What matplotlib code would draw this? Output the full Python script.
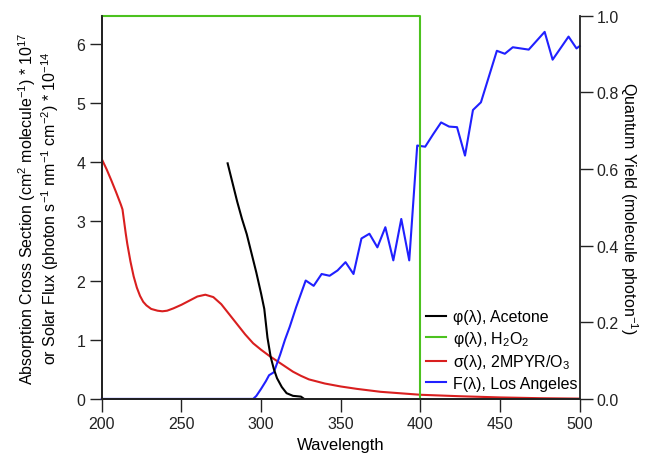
import matplotlib.pyplot as plt
import numpy as np

plt.rcParams['font.family'] = ['Liberation Sans', 'DejaVu Sans']
plt.rcParams['mathtext.default'] = 'regular'

# phi(lambda), acetone (right axis)
acetone_wl = [279, 282, 285, 288, 291, 294, 297, 300, 302, 304, 306, 308, 310, 313, 316, 320, 325, 327]
acetone_phi = [0.615, 0.565, 0.515, 0.47, 0.43, 0.38, 0.33, 0.275, 0.235, 0.16, 0.11, 0.078, 0.054,
               0.031, 0.015, 0.008, 0.006, 0.0]

# phi(lambda), H2O2 (right axis)
h2o2_wl = [200, 400, 400]
h2o2_phi = [1.0, 1.0, 0.0]

# sigma(lambda), 2MPYR/O3 (left axis)
sigma_wl = [200, 203, 206, 209, 212, 213, 214, 215, 216, 218, 220, 222, 224, 226, 228, 231, 235,
            238, 241, 245, 250, 255, 260, 265, 270, 275, 280, 285, 290, 295, 300, 305, 310, 315,
            320, 325, 330, 340, 350, 360, 375, 400, 425, 450, 475, 500]
sigma_val = [4.05, 3.88, 3.69, 3.49, 3.28, 3.2, 3.0, 2.8, 2.62, 2.32, 2.07, 1.88, 1.74, 1.64,
             1.58, 1.52, 1.49, 1.48, 1.49, 1.53, 1.59, 1.66, 1.73, 1.76, 1.72, 1.6, 1.43, 1.26,
             1.09, 0.94, 0.83, 0.73, 0.64, 0.55, 0.46, 0.39, 0.33, 0.26, 0.21, 0.17, 0.12, 0.07,
             0.045, 0.025, 0.012, 0.005]

# F(lambda), Los Angeles solar flux (left axis)
flux_wl = [200, 295, 297, 300, 303, 305, 308, 310, 312, 315, 318, 322, 328, 333, 338, 343, 348,
           353, 358, 363, 368, 373, 378, 383, 388, 393, 398, 403, 408, 413, 418, 423, 428, 433,
           438, 448, 453, 458, 468, 478, 483, 493, 498, 500]
flux_val = [0.0, 0.0, 0.05, 0.17, 0.3, 0.4, 0.45, 0.6, 0.75, 1.0, 1.22, 1.55, 2.0, 1.91, 2.11,
            2.08, 2.17, 2.31, 2.11, 2.71, 2.79, 2.56, 2.9, 2.34, 3.04, 2.34, 4.28, 4.26, 4.47,
            4.67, 4.6, 4.59, 4.11, 4.88, 5.01, 5.88, 5.83, 5.94, 5.9, 6.2, 5.73, 6.12, 5.92, 5.96]

fig = plt.figure(figsize=(6.61, 4.56), dpi=100)
ax = fig.add_axes([0.154, 0.123, 0.723, 0.840])
ax2 = ax.twinx()

l3, = ax.plot(sigma_wl, sigma_val, color='#d91f1f', lw=1.5, label=r'σ(λ), 2MPYR/O$_3$')
l4, = ax.plot(flux_wl, flux_val, color='#2020ff', lw=1.5, label='F(λ), Los Angeles', clip_on=False)
l1, = ax2.plot(acetone_wl, acetone_phi, color='black', lw=1.5, label='φ(λ), Acetone')
l2, = ax2.plot(h2o2_wl, h2o2_phi, color='#4cc21f', lw=1.5, label=r'φ(λ), H$_2$O$_2$', clip_on=False)

ax.set_xlim(200, 500)
ax.set_ylim(0, 6.47)
ax2.set_ylim(0, 1.0)
ax.set_xticks([200, 250, 300, 350, 400, 450, 500])
ax.set_yticks([0, 1, 2, 3, 4, 5, 6])
ax2.set_yticks([0.0, 0.2, 0.4, 0.6, 0.8, 1.0])
ax2.set_yticklabels(['0.0', '0.2', '0.4', '0.6', '0.8', '1.0'])

for a in (ax, ax2):
    a.spines['top'].set_visible(False)
    for s in a.spines.values():
        s.set_linewidth(1.3)
        s.set_color('#222222')
    a.tick_params(direction='out', length=9, width=1, pad=3, labelsize=11.5, colors='#222222')
ax.spines['right'].set_visible(False)

ax.set_xlabel('Wavelength', fontsize=12, labelpad=4.5)
ax.set_ylabel('Absorption Cross Section (cm$^2$ molecule$^{-1}$) * 10$^{17}$\n'
              'or Solar Flux (photon s$^{-1}$ nm$^{-1}$ cm$^{-2}$) * 10$^{-14}$',
              fontsize=11.5, linespacing=1.05, labelpad=11)
ax2.set_ylabel('Quantum Yield (molecule photon$^{-1}$)', fontsize=11.5, rotation=270, labelpad=15)

ax2.legend(handles=[l1, l2, l3, l4], loc='lower right', frameon=False, fontsize=11.5,
           handlelength=1.3, handletextpad=0.4, labelspacing=0.28,
           bbox_to_anchor=(1.015, -0.004), borderaxespad=0.2)

fig.savefig('out.png', dpi=100)
